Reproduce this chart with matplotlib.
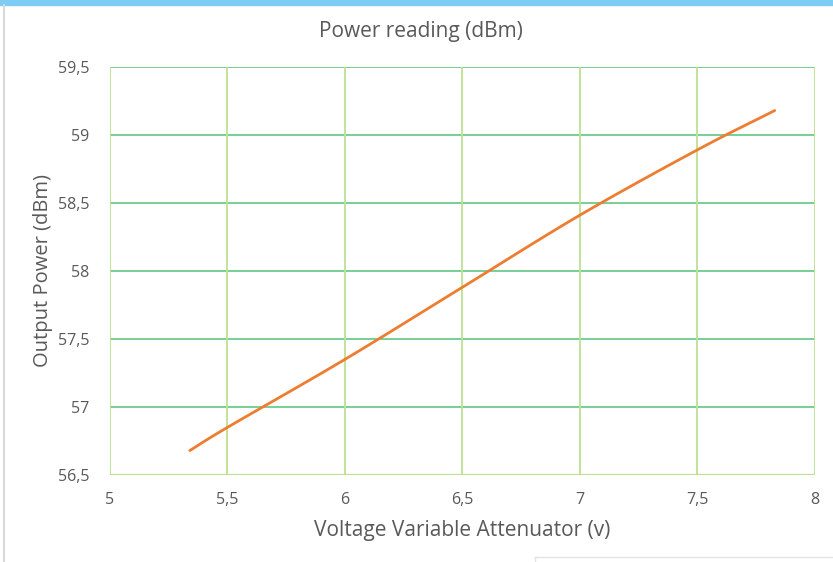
import matplotlib
matplotlib.use("Agg")
import matplotlib.pyplot as plt
import numpy as np
from matplotlib.ticker import FuncFormatter
from matplotlib.patches import Rectangle
from matplotlib.lines import Line2D

# Measured output power versus attenuator control voltage
voltage = [5.34, 5.5, 6.0, 6.5, 7.0, 7.5, 7.83]
power_dbm = [56.68, 56.85, 57.35, 57.88, 58.41, 58.89, 59.18]

x_ticks = [5, 5.5, 6, 6.5, 7, 7.5, 8]
y_ticks = [56.5, 57, 57.5, 58, 58.5, 59, 59.5]

title = "Power reading (dBm)"
x_label = "Voltage Variable Attenuator (v)"
y_label = "Output Power (dBm)"

plt.rcParams['font.family'] = ['Open Sans', 'DejaVu Sans']

fig = plt.figure(figsize=(8.33, 5.62), dpi=100)
ax = fig.add_axes([0.132, 0.1548, 0.846, 0.726])

# smooth curve through the measured points (Catmull-Rom style)
def smooth(xs, ys, n=20):
    xs = np.asarray(xs, float)
    ys = np.asarray(ys, float)
    px = np.concatenate([[2 * xs[0] - xs[1]], xs, [2 * xs[-1] - xs[-2]]])
    py = np.concatenate([[2 * ys[0] - ys[1]], ys, [2 * ys[-1] - ys[-2]]])
    ox, oy = [], []
    for i in range(1, len(px) - 2):
        t = np.linspace(0, 1, n, endpoint=False)
        for arr, out in ((px, ox), (py, oy)):
            p0, p1, p2, p3 = arr[i - 1], arr[i], arr[i + 1], arr[i + 2]
            out.extend(0.5 * ((2 * p1) + (-p0 + p2) * t
                              + (2 * p0 - 5 * p1 + 4 * p2 - p3) * t ** 2
                              + (-p0 + 3 * p1 - 3 * p2 + p3) * t ** 3))
    ox.append(xs[-1])
    oy.append(ys[-1])
    return ox, oy

sx, sy = smooth(voltage, power_dbm)
ax.plot(sx, sy, color="#ED7D31", linewidth=2.0, solid_capstyle="round", zorder=3)

ax.set_xlim(x_ticks[0], x_ticks[-1])
ax.set_ylim(y_ticks[0], y_ticks[-1])
ax.set_xticks(x_ticks)
ax.set_yticks(y_ticks)

comma = FuncFormatter(lambda v, p: ("%g" % v).replace(".", ","))
ax.xaxis.set_major_formatter(comma)
ax.yaxis.set_major_formatter(comma)

for s in ax.spines.values():
    s.set_visible(False)

# gridlines: horizontal darker green, vertical lighter green
for yv in y_ticks[1:]:
    ax.axhline(yv, color="#6CCB8C", linewidth=1.3, zorder=1)
for xv in x_ticks:
    ax.axvline(xv, color="#BCE28F", linewidth=1.3, zorder=1)
ax.axhline(y_ticks[0], color="#BCE28F", linewidth=1.6, zorder=2)

ax.tick_params(axis="both", length=0, labelsize=11.5, labelcolor="#595959")
ax.tick_params(axis="x", pad=12)
ax.tick_params(axis="y", pad=15)

fig.text(421 / 833, 1 - 32 / 562, title, fontsize=15, color="#595959",
         ha="center", va="center")
ax.set_xlabel(x_label, fontsize=15, color="#595959", labelpad=9)
ax.set_ylabel(y_label, fontsize=14.5, color="#595959", labelpad=3)

# window frame details
fig.patches.append(Rectangle((0, 1 - 5 / 562), 1, 5 / 562, transform=fig.transFigure,
                             color="#7CCCF4", zorder=0))
fig.lines.append(Line2D([3.5 / 833, 3.5 / 833], [0, 1 - 5 / 562], transform=fig.transFigure,
                        color="#D9D9D9", linewidth=1.5))
fig.lines.append(Line2D([535 / 833, 1], [5 / 562, 5 / 562], transform=fig.transFigure,
                        color="#E3E3E3", linewidth=1.0))
fig.lines.append(Line2D([535 / 833, 535 / 833], [0, 5 / 562], transform=fig.transFigure,
                        color="#E3E3E3", linewidth=1.0))

fig.savefig("out.png", dpi=100)
